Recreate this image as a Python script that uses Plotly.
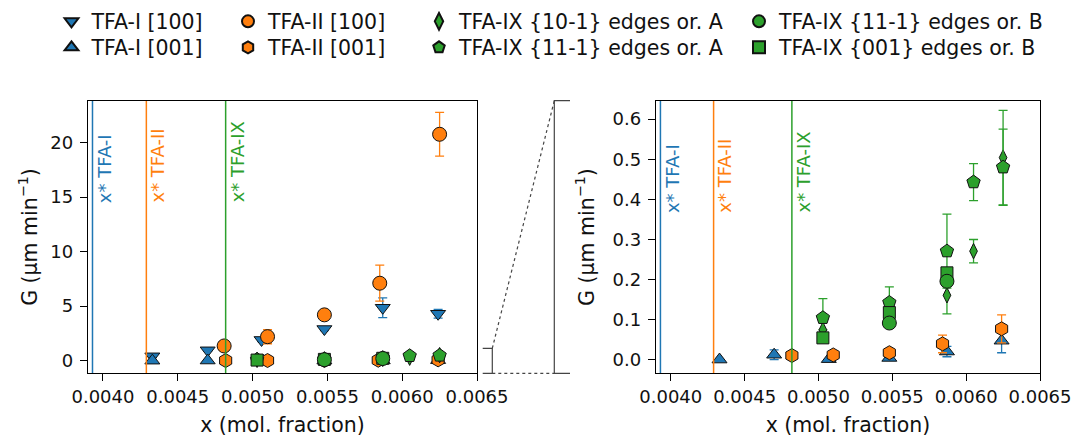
import plotly.graph_objects as go

# ---------------- data ----------------
x_I100 = [0.00433, 0.00470, 0.00506, 0.00548, 0.00587, 0.00624]
G_I100 = [0.40, 0.95, 1.90, 2.90, 4.85, 4.30]
e_I100 = [0.05, 0.10, 0.15, 0.15, 0.90, 0.40]

x_I001 = [0.00433, 0.00470, 0.00507, 0.00548, 0.00587, 0.00624]
G_I001 = [0.001, 0.013, 0.002, 0.005, 0.021, 0.048]
e_I001 = [0.0, 0.012, 0.0, 0.003, 0.013, 0.030]

x_II100 = [0.00481, 0.00510, 0.00548, 0.00585, 0.00625]
G_II100 = [1.35, 2.20, 4.20, 7.10, 20.75]
e_II100 = [0.10, 0.65, 0.10, 1.65, 2.00]

x_II001 = [0.00482, 0.00510, 0.00548, 0.00584, 0.00624]
G_II001 = [0.011, 0.0125, 0.018, 0.040, 0.0775]
e_II001 = [0.0, 0.002, 0.004, 0.022, 0.035]

x_IX_101A = [0.00503, 0.00548, 0.00587, 0.00605, 0.00625]
G_IX_101A = [0.075, 0.115, 0.161, 0.271, 0.504]
e_IX_101A = [0.0, 0.0, 0.046, 0.029, 0.1175]

x_IX_111A = [0.00503, 0.00548, 0.00587, 0.00605, 0.00625]
G_IX_111A = [0.105, 0.143, 0.271, 0.443, 0.480]
e_IX_111A = [0.048, 0.039, 0.092, 0.046, 0.095]

x_IX_001B = [0.00503, 0.00548, 0.00587]
G_IX_001B = [0.055, 0.118, 0.217]
e_IX_001B = [0.0, 0.0, 0.0]

x_IX_111B = [0.00548, 0.00587]
G_IX_111B = [0.092, 0.196]
e_IX_111B = [0.0, 0.0]

x_star = [0.00393, 0.00429, 0.00482]
x_star_labels = ["x* TFA-I", "x* TFA-II", "x* TFA-IX"]

x_ticks = [0.0040, 0.0045, 0.0050, 0.0055, 0.0060, 0.0065]
x_tick_labels = ["0.0040", "0.0045", "0.0050", "0.0055", "0.0060", "0.0065"]
y1_ticks = [0, 5, 10, 15, 20]
y2_ticks = [0.0, 0.1, 0.2, 0.3, 0.4, 0.5, 0.6]
y2_tick_labels = ["0.0", "0.1", "0.2", "0.3", "0.4", "0.5", "0.6"]

# ---------------- styling ----------------
BLUE, ORANGE, GREEN = "#1f77b4", "#ff7f0e", "#2ca02c"
W, H = 1072, 437
FONT = "DejaVu Sans"

series = [
    # name, x, y, err, color, symbol, size, legend, in_zoom
    ("TFA-I [100]", x_I100, G_I100, e_I100, BLUE, "triangle-down", 13, "legend", False),
    ("TFA-I [001]", x_I001, G_I001, e_I001, BLUE, "triangle-up", 13, "legend2", True),
    ("TFA-II [100]", x_II100, G_II100, e_II100, ORANGE, "circle", 14, "legend3", False),
    ("TFA-II [001]", x_II001, G_II001, e_II001, ORANGE, "hexagon", 14, "legend4", True),
    ("TFA-IX {10-1} edges or. A", x_IX_101A, G_IX_101A, e_IX_101A, GREEN, "diamond-tall", 11, "legend5", True),
    ("TFA-IX {11-1} edges or. A", x_IX_111A, G_IX_111A, e_IX_111A, GREEN, "pentagon", 14, "legend6", True),
    ("TFA-IX {001} edges or. B", x_IX_001B, G_IX_001B, e_IX_001B, GREEN, "square", 12, "legend8", True),
    ("TFA-IX {11-1} edges or. B", x_IX_111B, G_IX_111B, e_IX_111B, GREEN, "circle", 14, "legend7", True),
]

fig = go.Figure()
for name, xs, ys, es, col, sym, sz, leg, in_zoom in series:
    for panel in (1, 2):
        if panel == 2 and not in_zoom:
            continue
        fig.add_trace(go.Scatter(
            x=xs, y=ys, mode="markers", name=name,
            xaxis="x" if panel == 1 else "x2",
            yaxis="y" if panel == 1 else "y2",
            marker=dict(symbol=sym, size=sz, color=col,
                        line=dict(color="#111111", width=1)),
            error_y=dict(type="data", array=es, color=col, thickness=1.3, width=4.5),
            showlegend=(panel == 1), legend=leg,
        ))

# vertical x* lines and labels
for xv, lab, col in zip(x_star, x_star_labels, [BLUE, ORANGE, GREEN]):
    for xr, yr, ylab in (("x", "y", 14.3), ("x2", "y2", 0.362)):
        fig.add_shape(type="line", xref=xr, yref=yr + " domain", x0=xv, x1=xv, y0=0, y1=1,
                      line=dict(color=col, width=1.5))
        fig.add_annotation(x=xv, y=ylab, xref=xr, yref=yr, text=lab, textangle=-90,
                           showarrow=False, xanchor="center", yanchor="bottom", xshift=11.5,
                           font=dict(family=FONT, size=18, color=col))

# inset indicator (bracket + dotted connectors), in paper coords
def px(x):
    return x / W

def py(y):
    return 1 - y / H

line_col = "#444444"
fig.add_shape(type="path", xref="paper", yref="paper",
              path=f"M{px(482.7)},{py(348.3)} L{px(492.3)},{py(348.3)} L{px(492.3)},{py(373.3)} L{px(482.7)},{py(373.3)}",
              line=dict(color=line_col, width=1.2))
fig.add_shape(type="path", xref="paper", yref="paper",
              path=f"M{px(570)},{py(100.7)} L{px(554.3)},{py(100.7)} L{px(554.3)},{py(373.3)} L{px(570)},{py(373.3)}",
              line=dict(color=line_col, width=1.2))
fig.add_shape(type="line", xref="paper", yref="paper", x0=px(492.3), y0=py(348.3), x1=px(554.3), y1=py(100.7),
              line=dict(color=line_col, width=1.2, dash="dot"))
fig.add_shape(type="line", xref="paper", yref="paper", x0=px(492.3), y0=py(373.3), x1=px(554.3), y1=py(373.3),
              line=dict(color=line_col, width=1.2, dash="dot"))

axis_common = dict(showline=True, mirror=True, linecolor="black", linewidth=1.3,
                   ticks="outside", ticklen=7, tickwidth=1.3, tickcolor="black",
                   showgrid=False, zeroline=False, automargin=False,
                   tickfont=dict(family=FONT, size=18, color="#111111"))
title_font = dict(family=FONT, size=20.5, color="#111111")

ydom = [1 - 373 / H, 1 - 101 / H]
fig.update_layout(
    width=W, height=H, autosize=False,
    margin=dict(l=0, r=0, t=0, b=0),
    template="none",
    plot_bgcolor="white", paper_bgcolor="white",
    xaxis=dict(domain=[88 / W, 477 / W], range=[0.0039, 0.0065], anchor="y",
               tickvals=x_ticks, ticktext=x_tick_labels,
               title=dict(text="x (mol. fraction)", font=title_font, standoff=19), **axis_common),
    yaxis=dict(domain=ydom, range=[-1.13, 23.8], anchor="x", tickvals=y1_ticks,
               ticklabelstandoff=3,
               title=dict(text="G (μm min<sup>−1</sup>)", font=title_font, standoff=7), **axis_common),
    xaxis2=dict(domain=[656 / W, 1040 / W], range=[0.0039, 0.0065], anchor="y2",
                tickvals=x_ticks, ticktext=x_tick_labels,
                title=dict(text="x (mol. fraction)", font=title_font, standoff=19), **axis_common),
    yaxis2=dict(domain=ydom, range=[-0.0325, 0.645], anchor="x2",
                tickvals=y2_ticks, ticktext=y2_tick_labels, ticklabelstandoff=3,
                title=dict(text="G (μm min<sup>−1</sup>)", font=title_font, standoff=12), **axis_common),
    showlegend=True,
)

# one legend per entry, so each entry sits exactly where the reference has it
leg_font = dict(family=FONT, size=20.5, color="#111111")
leg_common = dict(xanchor="left", yanchor="top", orientation="v",
                  bgcolor="rgba(0,0,0,0)", borderwidth=0, itemsizing="constant",
                  tracegroupgap=0, font=leg_font)
text_starts = [91.5, 268, 459, 779]
row_tops = [1.5, 27.5]
legs = {}
k = 1
for ci, xs0 in enumerate(text_starts):
    for ri, yt in enumerate(row_tops):
        key = "legend" if k == 1 else f"legend{k}"
        legs[key] = dict(x=(xs0 - 40) / W, y=1 - yt / H, **leg_common)
        k += 1
fig.update_layout(**legs)

fig.write_html("out.html", config={"displayModeBar": False},
               post_script="document.body.style.margin='0px';document.body.style.padding='0px';")
